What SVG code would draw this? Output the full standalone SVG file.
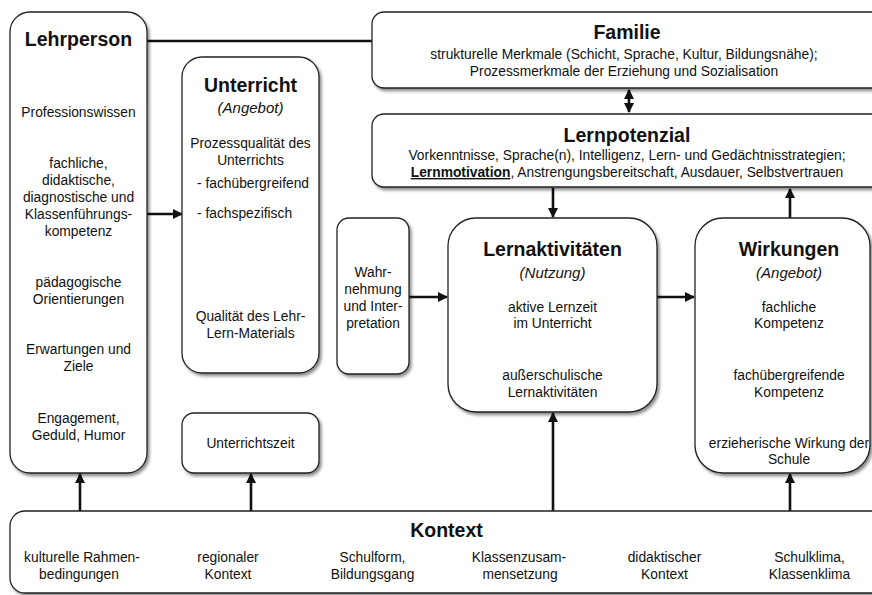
<svg xmlns="http://www.w3.org/2000/svg" width="872" height="595" viewBox="0 0 872 595">
  <defs>
    <filter id="shadow" x="-10%" y="-10%" width="120%" height="120%">
      <feDropShadow dx="2" dy="2.5" stdDeviation="1.6" flood-color="#000" flood-opacity="0.45"/>
    </filter>
    <marker id="arrow" viewBox="0 0 10 10" refX="9" refY="5" markerWidth="4" markerHeight="4" orient="auto-start-reverse" markerUnits="strokeWidth">
      <path d="M0,0 L10,5 L0,10 Z" fill="#111"/>
    </marker>
  </defs>
  <style>
    .box { fill: #fff; stroke: #222; stroke-width: 1.3; filter: url(#shadow); }
    .title { font-family: "Liberation Sans", Arial, sans-serif; font-weight: bold; font-size: 19.5px; fill: #111; text-anchor: middle; }
    .sub { font-family: "Liberation Sans", Arial, sans-serif; font-style: italic; font-size: 15px; fill: #111; text-anchor: middle; }
    .t { font-family: "Liberation Sans", Arial, sans-serif; font-size: 13.8px; fill: #111; text-anchor: middle; }
    .tl { font-family: "Liberation Sans", Arial, sans-serif; font-size: 13.8px; fill: #111; }
    .conn { stroke: #111; stroke-width: 2.6; fill: none; }
    .arr { marker-end: url(#arrow); }
    .arr2 { marker-start: url(#arrow); marker-end: url(#arrow); }
  </style>

  <rect width="872" height="595" fill="#fff"/>

  <!-- connectors -->
  <g id="connectors">
    <line class="conn" x1="147" y1="41" x2="372" y2="41"/>
    <line class="conn arr" x1="147" y1="214" x2="182" y2="214"/>
    <line class="conn arr2" x1="629" y1="90" x2="629" y2="112"/>
    <line class="conn arr" x1="553" y1="188" x2="553" y2="217"/>
    <line class="conn arr" x1="790" y1="218" x2="790" y2="189"/>
    <line class="conn arr" x1="409" y1="297" x2="447" y2="297"/>
    <line class="conn arr" x1="657" y1="297" x2="694" y2="297"/>
    <line class="conn arr" x1="80" y1="511" x2="80" y2="474"/>
    <line class="conn arr" x1="251" y1="511" x2="251" y2="474"/>
    <line class="conn arr" x1="553" y1="511" x2="553" y2="413"/>
    <line class="conn arr" x1="790" y1="511" x2="790" y2="474"/>
  </g>

  <!-- Lehrperson -->
  <g id="lehrperson">
    <rect class="box" x="10" y="12" width="137" height="461" rx="20"/>
    <text class="title" x="78.5" y="46">Lehrperson</text>
    <text class="t" x="78.5" y="117">Professionswissen</text>
    <text class="t" x="78.5" y="168">fachliche,</text>
    <text class="t" x="78.5" y="185">didaktische,</text>
    <text class="t" x="78.5" y="202">diagnostische und</text>
    <text class="t" x="78.5" y="219">Klassenführungs-</text>
    <text class="t" x="78.5" y="236">kompetenz</text>
    <text class="t" x="78.5" y="287">pädagogische</text>
    <text class="t" x="78.5" y="304">Orientierungen</text>
    <text class="t" x="78.5" y="354">Erwartungen und</text>
    <text class="t" x="78.5" y="371">Ziele</text>
    <text class="t" x="78.5" y="423">Engagement,</text>
    <text class="t" x="78.5" y="440">Geduld, Humor</text>
  </g>

  <!-- Unterricht -->
  <g id="unterricht">
    <rect class="box" x="182" y="57" width="137" height="316" rx="20"/>
    <text class="title" x="250.5" y="92">Unterricht</text>
    <text class="sub" x="250.5" y="113">(Angebot)</text>
    <text class="t" x="250.5" y="148">Prozessqualität des</text>
    <text class="t" x="250.5" y="165">Unterrichts</text>
    <text class="tl" x="197" y="188">- fachübergreifend</text>
    <text class="tl" x="197" y="218">- fachspezifisch</text>
    <text class="t" x="250.5" y="321">Qualität des Lehr-</text>
    <text class="t" x="250.5" y="338">Lern-Materials</text>
  </g>

  <!-- Unterrichtszeit -->
  <g id="unterrichtszeit">
    <rect class="box" x="182" y="413" width="137" height="60" rx="12"/>
    <text class="t" x="250.5" y="448">Unterrichtszeit</text>
  </g>

  <!-- Wahrnehmung und Interpretation -->
  <g id="wahrnehmung">
    <rect class="box" x="337" y="218" width="72" height="156" rx="12"/>
    <text class="t" x="373" y="277">Wahr-</text>
    <text class="t" x="373" y="294">nehmung</text>
    <text class="t" x="373" y="311">und Inter-</text>
    <text class="t" x="373" y="328">pretation</text>
  </g>

  <!-- Familie -->
  <g id="familie">
    <rect class="box" x="372" y="12" width="530" height="76" rx="12"/>
    <text class="title" x="627" y="39">Familie</text>
    <text class="t" x="624" y="59">strukturelle Merkmale (Schicht, Sprache, Kultur, Bildungsnähe);</text>
    <text class="t" x="624" y="76">Prozessmerkmale der Erziehung und Sozialisation</text>
  </g>

  <!-- Lernpotenzial -->
  <g id="lernpotenzial">
    <rect class="box" x="372" y="114" width="530" height="73" rx="12"/>
    <text class="title" x="627" y="142">Lernpotenzial</text>
    <text class="t" x="627" y="160">Vorkenntnisse, Sprache(n), Intelligenz, Lern- und Gedächtnisstrategien;</text>
    <text class="t" x="627" y="177"><tspan font-weight="bold" text-decoration="underline">Lernmotivation</tspan>, Anstrengungsbereitschaft, Ausdauer, Selbstvertrauen</text>
  </g>

  <!-- Lernaktivitäten -->
  <g id="lernaktivitaeten">
    <rect class="box" x="448" y="218" width="209" height="194" rx="28"/>
    <text class="title" x="552.5" y="256">Lernaktivitäten</text>
    <text class="sub" x="552.5" y="278">(Nutzung)</text>
    <text class="t" x="552.5" y="312">aktive Lernzeit</text>
    <text class="t" x="552.5" y="328">im Unterricht</text>
    <text class="t" x="552.5" y="380">außerschulische</text>
    <text class="t" x="552.5" y="397">Lernaktivitäten</text>
  </g>

  <!-- Wirkungen -->
  <g id="wirkungen">
    <rect class="box" x="695" y="218" width="175" height="255" rx="28"/>
    <text class="title" x="789" y="256">Wirkungen</text>
    <text class="sub" x="789" y="278">(Angebot)</text>
    <text class="t" x="789" y="312">fachliche</text>
    <text class="t" x="789" y="328">Kompetenz</text>
    <text class="t" x="789" y="380">fachübergreifende</text>
    <text class="t" x="789" y="397">Kompetenz</text>
    <text class="t" x="789" y="448">erzieherische Wirkung der</text>
    <text class="t" x="789" y="464">Schule</text>
  </g>

  <!-- Kontext -->
  <g id="kontext">
    <rect class="box" x="10" y="511" width="890" height="82" rx="15"/>
    <text class="title" x="446.5" y="537">Kontext</text>
    <text class="t" x="82" y="562">kulturelle Rahmen-</text>
    <text class="t" x="79" y="579">bedingungen</text>
    <text class="t" x="228" y="562">regionaler</text>
    <text class="t" x="228" y="579">Kontext</text>
    <text class="t" x="372.5" y="562">Schulform,</text>
    <text class="t" x="372.5" y="579">Bildungsgang</text>
    <text class="t" x="519" y="562">Klassenzusam-</text>
    <text class="t" x="520" y="579">mensetzung</text>
    <text class="t" x="664.5" y="562">didaktischer</text>
    <text class="t" x="664.5" y="579">Kontext</text>
    <text class="t" x="809.5" y="562">Schulklima,</text>
    <text class="t" x="809.5" y="579">Klassenklima</text>
  </g>
</svg>
